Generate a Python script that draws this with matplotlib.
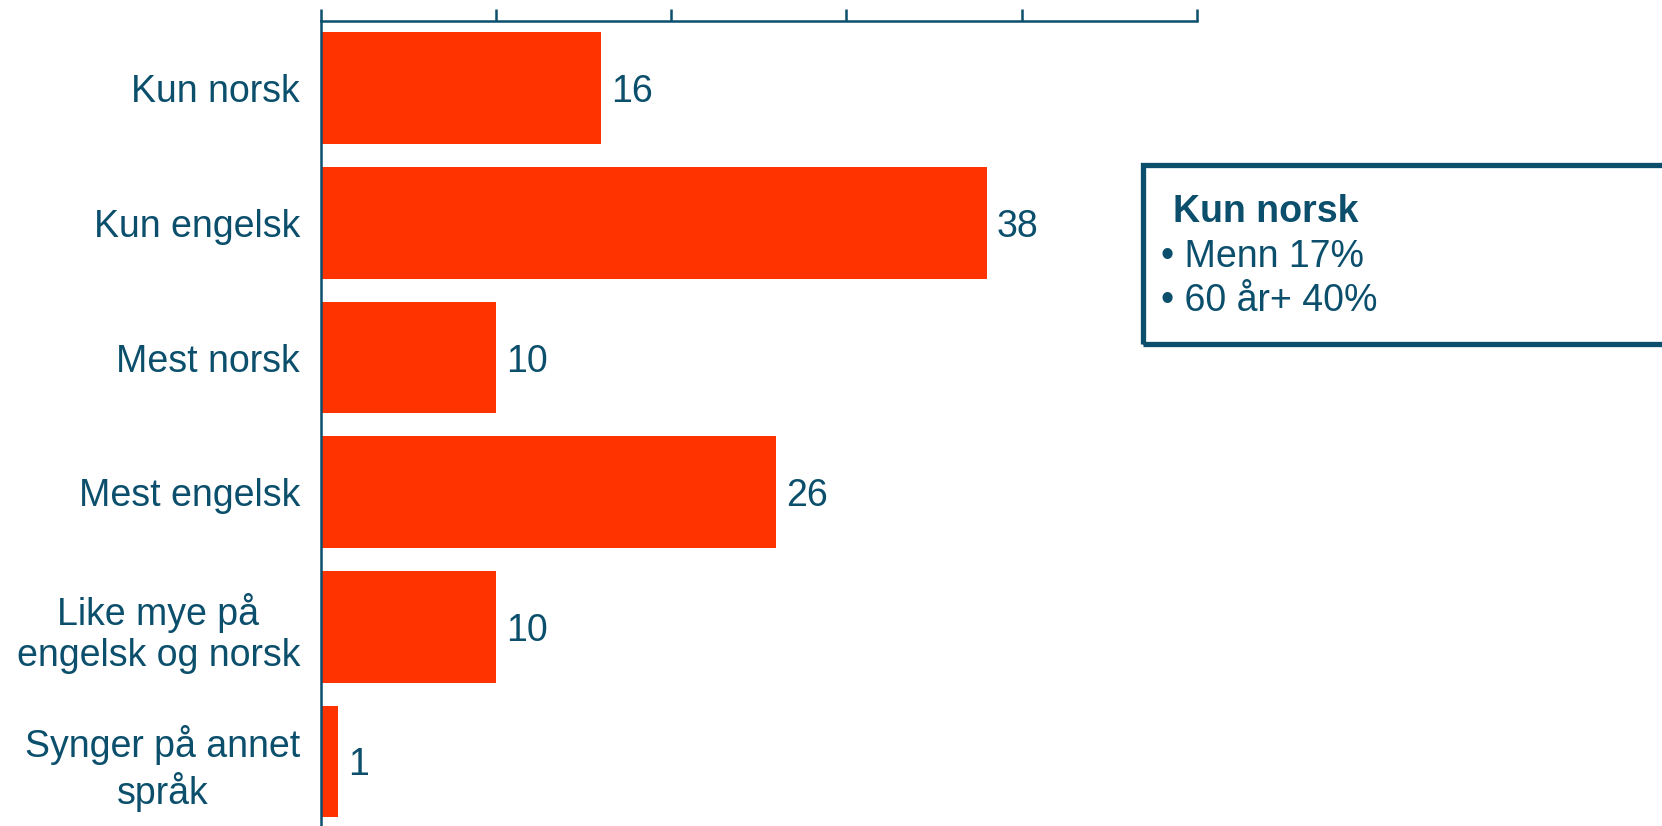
import matplotlib.pyplot as plt
from matplotlib.patches import Rectangle

plt.rcParams['font.family'] = ['Liberation Sans', 'DejaVu Sans']

categories = ['Kun norsk', 'Kun engelsk', 'Mest norsk', 'Mest engelsk',
              'Like mye på\nengelsk og norsk', 'Synger på annet\nspråk']
values = [16, 38, 10, 26, 10, 1]
box_title = 'Kun norsk'
box_lines = ['• Menn 17%', '• 60 år+ 40%']

teal = '#0B4F6C'
red = '#FF3300'

fig = plt.figure(figsize=(16.62, 8.26), dpi=100)
ax = fig.add_axes([0.1931, 0.0, 0.527, 0.9746])

y = list(range(len(categories)))
ax.barh(y, values, height=0.83, color=red)
for yi, v in zip(y, values):
    ax.text(v + 0.55, yi, str(v), va='center_baseline', ha='left', fontsize=27, color=teal)

ax.set_xlim(0, 50)
ax.set_ylim(5.48, -0.5)
ax.set_yticks(y)
ax.set_yticklabels(categories, fontsize=27, color=teal, multialignment='center')
ax.tick_params(axis='y', length=0, pad=15)
ax.xaxis.tick_top()
ax.set_xticks([0, 10, 20, 30, 40, 50])
ax.tick_params(axis='x', direction='out', length=8.5, width=1.8, color=teal,
               labeltop=False, labelbottom=False)
for s in ['right', 'bottom']:
    ax.spines[s].set_visible(False)
for s in ['left', 'top']:
    ax.spines[s].set_color(teal)
    ax.spines[s].set_linewidth(1.8)

# annotation box
fig.patches.append(Rectangle((0.6875, 0.5835), 0.35, 0.2165, transform=fig.transFigure,
                             fill=False, edgecolor=teal, linewidth=3.8))
fig.text(0.706, 0.743, box_title, fontsize=27, fontweight='bold', color=teal, va='center')
fig.text(0.6985, 0.689, box_lines[0], fontsize=27, color=teal, va='center')
fig.text(0.6985, 0.635, box_lines[1], fontsize=27, color=teal, va='center')

fig.savefig('out.png', dpi=100)
